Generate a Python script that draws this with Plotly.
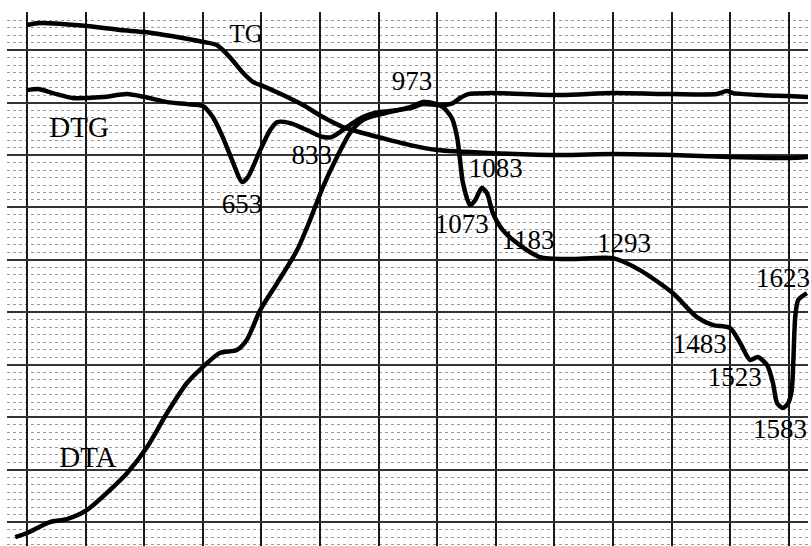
import plotly.graph_objects as go

# x: chart-paper divisions (vertical rulings at integers)
# y: minor divisions (heavy horizontal ruling every 7)
tg_x = [0.00, 0.22, 1.02, 1.59, 2.01, 2.56, 3.02, 3.24, 3.46, 3.69, 3.86, 4.03, 4.37, 4.71,
        5.05, 5.39, 5.73, 6.19, 6.54, 7.00, 7.90, 9.10, 10.00, 11.01, 12.00, 12.73, 13.02, 13.33]
tg_y = [66.36, 66.62, 66.22, 65.69, 65.42, 64.75, 64.09, 63.68, 62.08, 59.95, 58.74, 58.21, 57.01, 55.67,
        54.07, 52.74, 51.94, 51.00, 50.33, 49.67, 49.27, 49.00, 49.13, 49.00, 48.73, 48.60, 48.60, 48.73]

dtg_x = [0.00, 0.19, 0.44, 0.78, 1.02, 1.30, 1.71, 2.01, 2.39, 2.73, 3.00, 3.17, 3.34, 3.52, 3.67,
         3.77, 3.98, 4.15, 4.27, 4.49, 4.78, 5.05, 5.20, 5.34, 5.51, 5.73, 6.02, 6.19, 6.54, 6.76,
         7.05, 7.27, 7.39, 7.53, 7.90, 9.10, 10.00, 11.01, 11.77, 11.95, 12.05, 12.51, 12.99, 13.33]
dtg_y = [57.67, 57.81, 57.27, 56.61, 56.61, 56.74, 57.14, 56.74, 56.07, 55.80, 55.54, 54.07, 51.40, 47.93, 45.39,
         46.06, 49.66, 52.33, 53.40, 53.27, 52.33, 51.40, 51.40, 52.07, 53.00, 54.07, 54.74, 54.87, 55.27, 55.80,
         55.67, 55.94, 56.61, 57.14, 57.27, 57.01, 57.27, 57.14, 57.14, 57.54, 57.27, 57.01, 56.87, 56.74]

dta_x = [-0.20, 0.00, 0.39, 0.68, 1.02, 1.54, 1.71, 2.05, 2.39, 2.73, 3.00, 3.29, 3.58, 3.75, 3.98,
         4.27, 4.61, 4.83, 5.05, 5.29, 5.51, 5.73, 5.97, 6.19, 6.54, 6.76, 6.93, 7.10, 7.25, 7.34,
         7.39, 7.44, 7.56, 7.65, 7.76, 7.85, 7.95, 8.12, 8.41, 8.75, 9.27, 10.00, 10.46, 11.02, 11.43,
         11.71, 12.00, 12.17, 12.34, 12.47, 12.63, 12.73, 12.80, 12.90, 12.99, 13.05, 13.11, 13.16, 13.31]
dta_y = [-2.01, -1.47, 0.00, 0.40, 1.60, 5.20, 6.54, 10.01, 14.55, 18.56, 20.69, 22.56, 22.96, 24.30, 28.30,
         31.91, 36.31, 40.32, 44.72, 48.73, 51.93, 53.67, 54.34, 54.74, 55.40, 56.07, 55.94, 55.40, 53.94, 51.40,
         48.33, 45.26, 42.32, 42.99, 44.59, 43.92, 41.25, 38.98, 36.98, 35.38, 35.11, 35.24, 33.64, 30.57, 27.37,
         26.30, 25.90, 23.90, 21.63, 22.03, 20.96, 18.56, 15.89, 15.22, 15.89, 17.62, 27.37, 29.64, 30.57]

label_text = ["TG", "DTG", "DTA", "653", "833", "973", "1083", "1073", "1183", "1293",
              "1483", "1523", "1583", "1623"]
label_x = [3.74, 0.89, 1.04, 3.67, 4.86, 6.57, 8.00, 7.42, 8.55, 10.19, 11.48, 12.08, 12.85, 12.90]
label_y = [64.88, 52.33, 8.28, 42.19, 48.73, 58.61, 46.99, 39.52, 37.38, 36.98, 23.50, 19.09, 12.15, 32.31]
label_size = [25, 29, 29, 27, 27, 27, 27, 27, 27, 27, 27, 27, 27, 27]

fig = go.Figure()
for xs, ys in [(tg_x, tg_y), (dtg_x, dtg_y), (dta_x, dta_y)]:
    fig.add_trace(go.Scatter(x=xs, y=ys, mode="lines",
                             line=dict(color="black", width=4.5, shape="spline", smoothing=0.7),
                             hoverinfo="skip", showlegend=False))

fig.add_trace(go.Scatter(x=label_x, y=label_y, text=label_text, mode="text",
                         textfont=dict(family="Liberation Serif", size=label_size, color="black"),
                         cliponaxis=False, hoverinfo="skip", showlegend=False))

fig.update_layout(
    width=811, height=546,
    margin=dict(l=7, r=3, t=12, b=0),
    paper_bgcolor="white", plot_bgcolor="white",
    xaxis=dict(range=[-0.341, 13.328], tick0=0, dtick=1, showgrid=True,
               gridcolor="#1a1a1a", gridwidth=2, showticklabels=False,
               zeroline=False, showline=False, ticks=""),
    yaxis=dict(range=[-3.2, 68.1], tick0=0, dtick=7, showgrid=True,
               gridcolor="#333333", gridwidth=1.5, showticklabels=False,
               zeroline=False, showline=False, ticks="",
               minor=dict(tick0=0, dtick=1, showgrid=True, gridcolor="#999999",
                          gridwidth=1, griddash="dot")),
)

fig.write_html("out.html", config={"displayModeBar": False},
               post_script="document.body.style.margin='0';")
